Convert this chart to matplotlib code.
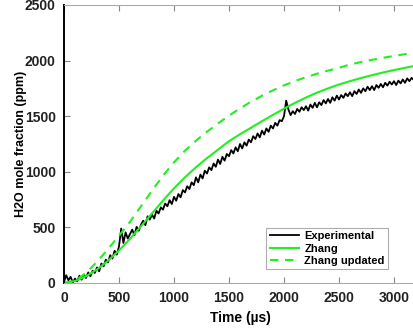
import numpy as np
import matplotlib
matplotlib.use("Agg")
import matplotlib.pyplot as plt

plt.rcParams['font.family'] = ['Liberation Sans', 'DejaVu Sans']
plt.rcParams['font.weight'] = 'bold'

# Model predictions, sampled every 100 us
model_time = list(range(0, 3201, 100))
zhang = [0, 18, 60, 122, 200, 292, 397, 510, 626, 741, 851, 951, 1041, 1123,
         1199, 1275, 1338, 1396, 1455, 1512, 1568, 1620, 1668, 1712, 1750,
         1785, 1815, 1843, 1869, 1893, 1915, 1935, 1955]
zhang_updated = [0, 20, 90, 190, 305, 425, 550, 690, 830, 965, 1085, 1190,
                 1280, 1360, 1435, 1505, 1570, 1630, 1684, 1733, 1777, 1816,
                 1851, 1882, 1910, 1935, 1965, 1987, 2007, 2025, 2042, 2058,
                 2072]

# Measured H2O trace, sampled every 20 us
exp_time = list(range(0, 3201, 20))
experimental = [
    10, 70, 25, 55, 5,
    40, 15, 65, 30, 75,
    45, 95, 60, 110, 90,
    140, 105, 175, 150, 210,
    185, 250, 220, 290, 255,
    330, 490, 360, 455, 400,
    440, 480, 430, 505, 470,
    525, 560, 520, 600, 570,
    615, 580, 650, 625, 680,
    660, 715, 690, 745, 710,
    775, 740, 800, 770, 835,
    815, 870, 845, 905, 880,
    950, 905, 975, 940, 1010,
    985, 1040, 1015, 1075, 1045,
    1110, 1070, 1135, 1100, 1160,
    1140, 1195, 1165, 1220, 1185,
    1250, 1210, 1265, 1235, 1290,
    1265, 1320, 1295, 1345, 1310,
    1370, 1335, 1390, 1360, 1415,
    1390, 1440, 1415, 1465, 1455,
    1500, 1640, 1560, 1510, 1545,
    1520, 1565, 1540, 1580, 1555,
    1590, 1550, 1605, 1575, 1620,
    1580, 1625, 1600, 1645, 1615,
    1655, 1620, 1670, 1640, 1685,
    1650, 1690, 1665, 1705, 1680,
    1715, 1680, 1725, 1700, 1740,
    1710, 1750, 1725, 1765, 1735,
    1770, 1735, 1780, 1755, 1790,
    1760, 1800, 1775, 1810, 1785,
    1815, 1780, 1820, 1795, 1830,
    1800, 1840, 1815, 1845, 1825,
    1830,
]

xticks = [0, 500, 1000, 1500, 2000, 2500, 3000]
yticks = [0, 500, 1000, 1500, 2000, 2500]

fig = plt.figure(figsize=(4.13, 3.29), dpi=100)
ax = fig.add_axes([64 / 413, 46 / 329, 352 / 413, 278 / 329])

green = '#22ee22'
ax.plot(exp_time, experimental, color='black', lw=1.3, label='Experimental')
ax.plot(model_time, zhang, color=green, lw=1.5, label='Zhang')
ax.plot(model_time, zhang_updated, color=green, lw=1.5, ls=(0, (4, 3.2)),
        label='Zhang updated')

ax.set_xlim(0, 3200)
ax.set_ylim(0, 2500)
ax.set_xticks(xticks)
ax.set_yticks(yticks)

for side in ('top', 'bottom', 'right'):
    ax.spines[side].set_color('#aaaaaa')
    ax.spines[side].set_linewidth(0.8)
ax.spines['left'].set_color('black')
ax.spines['left'].set_linewidth(1.4)

ax.tick_params(axis='both', direction='in', length=4, width=0.8,
               color='#888888', labelsize=10, pad=6)
ax.tick_params(axis='x', top=True)
for lab in ax.get_xticklabels() + ax.get_yticklabels():
    lab.set_fontweight('bold')
    lab.set_color('#222222')

ax.set_xlabel('Time (\u00b5s)', fontsize=10, fontweight='bold', labelpad=4)
ax.set_ylabel('H2O mole fraction (ppm)', fontsize=9, fontweight='bold',
              labelpad=-2)

leg = ax.legend(loc='lower left', bbox_to_anchor=(0.575, 0.05),
                prop={'weight': 'bold', 'size': 8},
                frameon=True, fancybox=False, edgecolor='#999999',
                handlelength=2.6, handletextpad=0.5, labelspacing=0.2,
                borderpad=0.3, borderaxespad=0)
leg.get_frame().set_linewidth(0.8)

fig.savefig('out.png', dpi=100)
